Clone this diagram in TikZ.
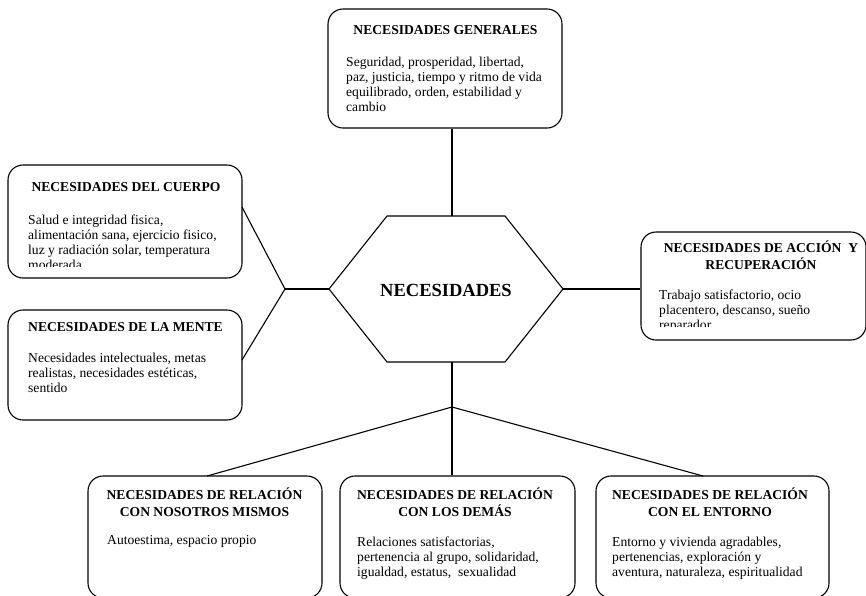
\documentclass[tikz,border=0pt]{standalone}
\usepackage{fontspec}
\setmainfont{Liberation Serif}
\newcommand{\bodyfs}{\fontsize{13.6}{15}\selectfont}
\newcommand{\ttlfs}{\fontsize{13.6}{16.5}\selectfont\bfseries}
\begin{document}
\begin{tikzpicture}[x=1pt,y=-1pt,
  rbox/.style={draw, line width=1.1pt, rounded corners=15pt, inner sep=0pt},
  ttl/.style={anchor=base, inner sep=0pt, align=center, font=\ttlfs},
  bodytxt/.style={anchor=base west, inner sep=0pt, align=left, font=\bodyfs},
  conn/.style={line width=1.1pt}]
\useasboundingbox (0,0) rectangle (866,595);
\clip (0,0) rectangle (866,595);
\fill[white] (0,0) rectangle (866,595);

% boxes
\node[rbox, minimum width=234pt, minimum height=119pt] (gen) at (445,68.5) {};
\node[rbox, minimum width=234pt, minimum height=113pt] (cuerpo) at (125,221.5) {};
\node[rbox, minimum width=234pt, minimum height=110pt] (mente) at (125,365) {};
\node[rbox, minimum width=225pt, minimum height=108pt] (accion) at (753.5,286) {};
\node[rbox, minimum width=234pt, minimum height=122pt] (nos) at (205,537) {};
\node[rbox, minimum width=235pt, minimum height=122pt] (dem) at (457.5,537) {};
\node[rbox, minimum width=233pt, minimum height=122pt] (ent) at (712.5,537) {};

% hexagon
\coordinate (hL) at (329,289);
\coordinate (hR) at (563,289);
\coordinate (hT) at (452,216);
\coordinate (hB) at (452,362);
\draw[conn] (387,216) -- (505,216) -- (hR) -- (505,362) -- (387,362) -- (hL) -- cycle;
\node[anchor=base, inner sep=0pt, font=\fontsize{18.5}{20}\selectfont\bfseries] (centro) at (446,296) {NECESIDADES};

% connectors
\coordinate (jL) at (285,289);
\coordinate (cuerpoE) at (242,207);
\coordinate (menteE) at (242,360);
\coordinate (jB) at (452,407);
\coordinate (nosN) at (207,476);
\coordinate (entN) at (703,476);
\draw[conn] (hT |- gen.south) -- (hT);
\draw[conn] (hL) -- (jL);
\draw[conn] (jL) -- (cuerpoE);
\draw[conn] (jL) -- (menteE);
\draw[conn] (hR) -- (hR -| accion.west);
\draw[conn] (hB) -- (jB) -- (jB |- dem.north);
\draw[conn] (jB) -- (nosN);
\draw[conn] (jB) -- (entN);

% texts (base anchor = baseline of the last line)
\node[ttl] (genT) at (445.5,34.5) {NECESIDADES GENERALES};
\node[bodytxt] (genB) at (346,111) {Seguridad, prosperidad, libertad,\\paz, justicia, tiempo y ritmo de vida\\equilibrado, orden, estabilidad y\\cambio};

\node[ttl] (cuerpoT) at (126,191.5) {NECESIDADES DEL CUERPO};
\begin{scope}
\clip (10,200) rectangle (240,266);
\node[bodytxt] (cuerpoB) at (28,269) {Salud e integridad fisica,\\alimentación sana, ejercicio fisico,\\luz y radiación solar, temperatura\\moderada};
\end{scope}

\node[ttl] (menteT) at (125.5,331.5) {NECESIDADES DE LA MENTE};
\node[bodytxt] (menteB) at (28,392) {Necesidades intelectuales, metas\\realistas, necesidades estéticas,\\sentido};

\node[ttl] (accionT) at (761,269) {NECESIDADES DE ACCIÓN\ \ Y\\RECUPERACIÓN};
\begin{scope}
\clip (645,280) rectangle (862,326);
\node[bodytxt] (accionB) at (659,329) {Trabajo satisfactorio, ocio\\placentero, descanso, sueño\\reparador};
\end{scope}

\node[ttl] (nosT) at (204.5,516) {NECESIDADES DE RELACIÓN\\CON NOSOTROS MISMOS};
\node[bodytxt] (nosB) at (107,544) {Autoestima, espacio propio};

\node[ttl] (demT) at (455,516) {NECESIDADES DE RELACIÓN\\CON LOS DEMÁS};
\node[bodytxt] (demB) at (357,576) {Relaciones satisfactorias,\\pertenencia al grupo, solidaridad,\\igualdad, estatus,\ \ sexualidad};

\node[ttl] (entT) at (710,516) {NECESIDADES DE RELACIÓN\\CON EL ENTORNO};
\node[bodytxt] (entB) at (612,576) {Entorno y vivienda agradables,\\pertenencias, exploración y\\aventura, naturaleza, espiritualidad};
\end{tikzpicture}
\end{document}
